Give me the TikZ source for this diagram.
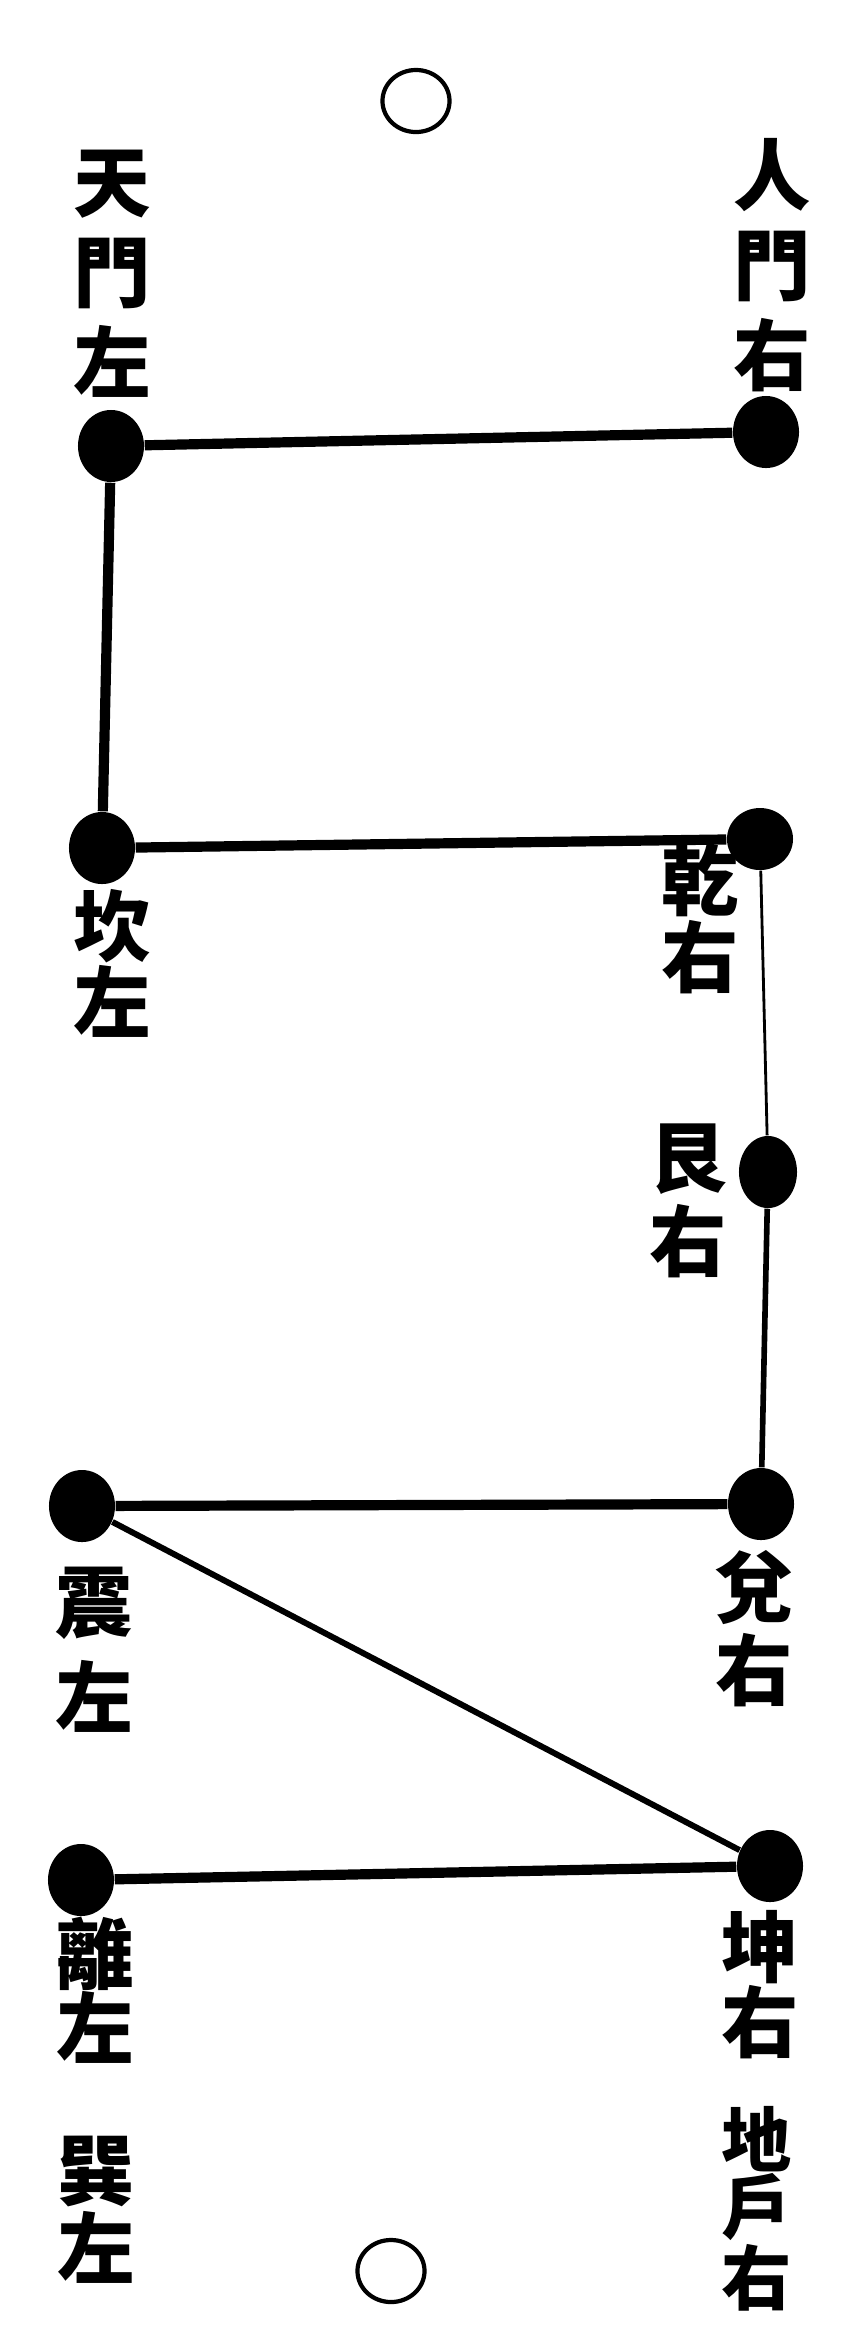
\documentclass[tikz,border=0pt]{standalone}
\usepackage{fontspec}
\newfontfamily\cjk{Noto Sans CJK TC}
\usetikzlibrary{shapes.geometric}

\begin{document}
\begin{tikzpicture}[x=0.01cm,y=-0.01cm,
  knot/.style={ellipse,fill=black,inner sep=0pt,
               minimum width=0.66cm,minimum height=0.72cm},
  ring/.style={ellipse,draw=black,line width=1.2pt,inner sep=0pt,
               minimum width=0.67cm,minimum height=0.62cm},
  lbl/.style={align=center,inner sep=0pt,
              font=\cjk\bfseries\fontsize{22}{#1}\selectfont},
  lbl/.default=22,
  bar/.style={line width=2.9pt},
  hair/.style={line width=0.8pt},
]
\useasboundingbox (0,0) rectangle (842,2344);
% rings at top and bottom
\node[ring] (topring) at (416,101) {};
\node[ring] (botring) at (391,2271) {};
% the nine points
\node[knot] (tianmen) at (111,446) {};
\node[knot] (renmen) at (766,432) {};
\node[knot] (kan) at (102,848) {};
\node[knot,minimum height=0.62cm] (qian) at (760,839) {};
\node[knot,minimum width=0.58cm] (gen) at (768,1172) {};
\node[knot] (zhen) at (82,1506) {};
\node[knot] (dui) at (761,1504) {};
\node[knot] (li) at (81,1880) {};
\node[knot] (kun) at (770,1866) {};
% labels
\node[lbl=25.6] (tianmen-l) at (112,274) {天\\門\\左};
\node[lbl=25.6] (renmen-l) at (772,265) {人\\門\\右};
\node[lbl=21.6] (kan-l) at (112,963) {坎\\左};
\node[lbl=20.8] (qian-l) at (700,919) {乾\\右};
\node[lbl=24] (gen-l) at (688,1201) {艮\\右};
\node[lbl=27] (zhen-l) at (94,1650) {震\\左};
\node[lbl=23.6] (dui-l) at (754,1629) {兌\\右};
\node[lbl=21] (li-l) at (95,1990) {離\\左};
\node[lbl=21.3] (kun-l) at (760,1985) {坤\\右};
\node[lbl=22.2] (xun-l) at (96,2210) {巽\\左};
\node[lbl=19,font=\cjk\bfseries\fontsize{20}{19}\selectfont] (dihu-l) at (757,2209) {地\\戶\\右};
% connectors
\draw[bar] (tianmen) -- (renmen);
\draw[bar] (tianmen) -- (kan);
\draw[bar] (kan) -- (qian);
\draw[hair] (qian) -- (gen);
\draw[line width=1.6pt] (gen) -- (dui);
\draw[bar] (zhen) -- (dui);
\draw[line width=1.7pt] (zhen) -- (kun);
\draw[bar] (li) -- (kun);
\end{tikzpicture}
\end{document}
